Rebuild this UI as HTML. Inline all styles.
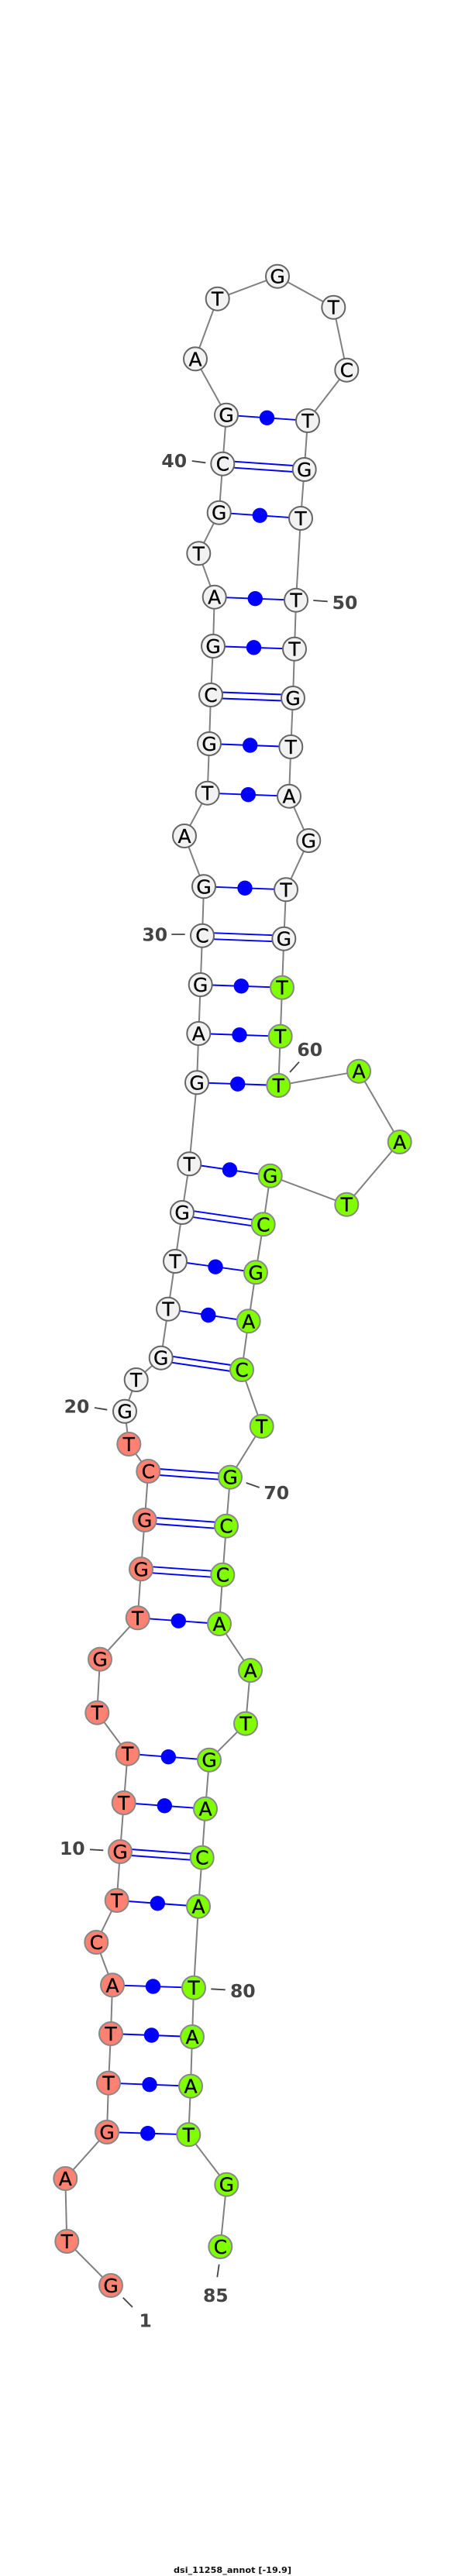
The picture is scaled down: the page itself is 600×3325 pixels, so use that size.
<!DOCTYPE html>
<html><head><meta charset="utf-8"><style>
html,body{margin:0;padding:0;background:#fff}
svg{display:block}
.w{fill:#f2f2f2;stroke:#666}.s{fill:#fe8172;stroke:#888}.g{fill:#7fff00;stroke:#888}
circle.w,circle.s,circle.g{stroke-width:2}
.n text{font:25px "DejaVu Sans",sans-serif;fill:#000;stroke:#000;stroke-width:.3;text-anchor:middle}
.l text{font:bold 23.5px "DejaVu Sans",sans-serif;fill:#444;text-anchor:middle}
</style></head><body>
<svg width="600" height="3325" viewBox="0 0 600 3325" xmlns="http://www.w3.org/2000/svg">
<rect width="600" height="3325" fill="#fff"/>
<polyline fill="none" stroke="#808080" stroke-width="2" points="143,2950 86.3,2893 84.3,2812 138,2752 140,2688.7 143,2625 145,2562.3 124.3,2507 150.7,2453 155,2390 159.7,2327 164.7,2263.7 125.3,2210.7 129,2141.7 177.7,2088.3 182,2025.3 186.7,1962 191.3,1899 166.3,1864 161,1821.7 175.7,1781 207.7,1752.7 217,1689.7 226,1628 235,1565 244.3,1502.3 254,1397.3 256.3,1334 258.7,1271 261,1207.7 263,1144.3 238,1079 267.7,1023.7 270,960 272,897 275,834 276.7,770.7 256.3,714.3 282.7,661.7 287.3,598.7 292,535.7 252,463.3 280.7,385.7 358,356.7 430.3,396.7 447.3,477.7 397,543 392.7,606 388,669 382,774.7 380,837.7 378,901 375.3,964 373,1027.7 398.3,1085 369,1148.3 366.3,1211.7 364,1274.7 361.7,1337.7 359.3,1401 463,1382.7 515.7,1474 447.3,1554.7 348.7,1517.7 339.7,1580.3 330,1642.3 320.7,1705.3 312,1768 337.7,1841 297,1906.7 292,1969.7 287.3,2032.7 283,2096 323,2156 317,2224.7 270,2271.7 265,2334.7 260.7,2397.7 256,2460.7 250,2565.7 248,2629 246,2692.7 243.3,2755.3 292.3,2819.7 284.3,2900"/>
<path fill="none" stroke="#0000ff" stroke-width="1.9" d="M138 2752L243.3 2755.3M140 2688.7L246 2692.7M143 2625L248 2629M145 2562.3L250 2565.7M150.7 2453L256 2460.7M159.7 2327L265 2334.7M164.7 2263.7L270 2271.7M177.7 2088.3L283 2096M217 1689.7L320.7 1705.3M226 1628L330 1642.3M244.3 1502.3L348.7 1517.7M254 1397.3L359.3 1401M256.3 1334L361.7 1337.7M258.7 1271L364 1274.7M263 1144.3L369 1148.3M267.7 1023.7L373 1027.7M270 960L375.3 964M275 834L380 837.7M276.7 770.7L382 774.7M282.7 661.7L388 669M292 535.7L397 543
M155 2386L260.7 2393.7M155 2394L260.7 2401.7M182 2021.3L287.3 2028.7M182 2029.3L287.3 2036.7M186.7 1958L292 1965.7M186.7 1966L292 1973.7M191.3 1895L297 1902.7M191.3 1903L297 1910.7M207.7 1748.7L312 1764M207.7 1756.7L312 1772M235 1561L339.7 1576.3M235 1569L339.7 1584.3M261 1203.7L366.3 1207.7M261 1211.7L366.3 1215.7M272 893L378 897M272 901L378 905M287.3 594.7L392.7 602M287.3 602.7L392.7 610"/>
<g fill="#0000ff">
<circle cx="190.7" cy="2753.7" r="9.7"/><circle cx="193" cy="2690.7" r="9.7"/><circle cx="195.5" cy="2627" r="9.7"/><circle cx="197.5" cy="2564" r="9.7"/><circle cx="203.3" cy="2456.8" r="9.7"/><circle cx="212.3" cy="2330.8" r="9.7"/><circle cx="217.3" cy="2267.7" r="9.7"/><circle cx="230.3" cy="2092.2" r="9.7"/><circle cx="268.8" cy="1697.5" r="9.7"/><circle cx="278" cy="1635.2" r="9.7"/><circle cx="296.5" cy="1510" r="9.7"/><circle cx="306.7" cy="1399.2" r="9.7"/><circle cx="309" cy="1335.8" r="9.7"/><circle cx="311.3" cy="1272.8" r="9.7"/><circle cx="316" cy="1146.3" r="9.7"/><circle cx="320.3" cy="1025.7" r="9.7"/><circle cx="322.7" cy="962" r="9.7"/><circle cx="327.5" cy="835.8" r="9.7"/><circle cx="329.3" cy="772.7" r="9.7"/><circle cx="335.3" cy="665.3" r="9.7"/><circle cx="344.5" cy="539.3" r="9.7"/>
</g>
<g fill="none" stroke="#444" stroke-width="1.8">
<path d="M158.7 2965.7L171 2978M282.7 2922.7L280.3 2939.3M116 2387.3L133.3 2388.3M272.3 2567.3L290.7 2568.3M122 1817L138.3 1819.7M317.7 1914L334.7 1920M374 1384L386 1370.7M221.3 1206L238.7 1206M404.3 775L422.7 776.3M247.7 595L265.3 597.3"/>
</g>
<g>
<circle class="s" cx="143" cy="2950" r="15"/><circle class="s" cx="86.3" cy="2893" r="15"/><circle class="s" cx="84.3" cy="2812" r="15"/><circle class="s" cx="138" cy="2752" r="15"/><circle class="s" cx="140" cy="2688.7" r="15"/><circle class="s" cx="143" cy="2625" r="15"/><circle class="s" cx="145" cy="2562.3" r="15"/><circle class="s" cx="124.3" cy="2507" r="15"/><circle class="s" cx="150.7" cy="2453" r="15"/><circle class="s" cx="155" cy="2390" r="15"/><circle class="s" cx="159.7" cy="2327" r="15"/><circle class="s" cx="164.7" cy="2263.7" r="15"/><circle class="s" cx="125.3" cy="2210.7" r="15"/><circle class="s" cx="129" cy="2141.7" r="15"/><circle class="s" cx="177.7" cy="2088.3" r="15"/><circle class="s" cx="182" cy="2025.3" r="15"/><circle class="s" cx="186.7" cy="1962" r="15"/><circle class="s" cx="191.3" cy="1899" r="15"/><circle class="s" cx="166.3" cy="1864" r="15"/>
<circle class="w" cx="161" cy="1821.7" r="15"/><circle class="w" cx="175.7" cy="1781" r="15"/><circle class="w" cx="207.7" cy="1752.7" r="15"/><circle class="w" cx="217" cy="1689.7" r="15"/><circle class="w" cx="226" cy="1628" r="15"/><circle class="w" cx="235" cy="1565" r="15"/><circle class="w" cx="244.3" cy="1502.3" r="15"/><circle class="w" cx="254" cy="1397.3" r="15"/><circle class="w" cx="256.3" cy="1334" r="15"/><circle class="w" cx="258.7" cy="1271" r="15"/><circle class="w" cx="261" cy="1207.7" r="15"/><circle class="w" cx="263" cy="1144.3" r="15"/><circle class="w" cx="238" cy="1079" r="15"/><circle class="w" cx="267.7" cy="1023.7" r="15"/><circle class="w" cx="270" cy="960" r="15"/><circle class="w" cx="272" cy="897" r="15"/><circle class="w" cx="275" cy="834" r="15"/><circle class="w" cx="276.7" cy="770.7" r="15"/><circle class="w" cx="256.3" cy="714.3" r="15"/><circle class="w" cx="282.7" cy="661.7" r="15"/><circle class="w" cx="287.3" cy="598.7" r="15"/><circle class="w" cx="292" cy="535.7" r="15"/><circle class="w" cx="252" cy="463.3" r="15"/><circle class="w" cx="280.7" cy="385.7" r="15"/><circle class="w" cx="358" cy="356.7" r="15"/><circle class="w" cx="430.3" cy="396.7" r="15"/><circle class="w" cx="447.3" cy="477.7" r="15"/><circle class="w" cx="397" cy="543" r="15"/><circle class="w" cx="392.7" cy="606" r="15"/><circle class="w" cx="388" cy="669" r="15"/><circle class="w" cx="382" cy="774.7" r="15"/><circle class="w" cx="380" cy="837.7" r="15"/><circle class="w" cx="378" cy="901" r="15"/><circle class="w" cx="375.3" cy="964" r="15"/><circle class="w" cx="373" cy="1027.7" r="15"/><circle class="w" cx="398.3" cy="1085" r="15"/><circle class="w" cx="369" cy="1148.3" r="15"/><circle class="w" cx="366.3" cy="1211.7" r="15"/>
<circle class="g" cx="364" cy="1274.7" r="15"/><circle class="g" cx="361.7" cy="1337.7" r="15"/><circle class="g" cx="359.3" cy="1401" r="15"/><circle class="g" cx="463" cy="1382.7" r="15"/><circle class="g" cx="515.7" cy="1474" r="15"/><circle class="g" cx="447.3" cy="1554.7" r="15"/><circle class="g" cx="348.7" cy="1517.7" r="15"/><circle class="g" cx="339.7" cy="1580.3" r="15"/><circle class="g" cx="330" cy="1642.3" r="15"/><circle class="g" cx="320.7" cy="1705.3" r="15"/><circle class="g" cx="312" cy="1768" r="15"/><circle class="g" cx="337.7" cy="1841" r="15"/><circle class="g" cx="297" cy="1906.7" r="15"/><circle class="g" cx="292" cy="1969.7" r="15"/><circle class="g" cx="287.3" cy="2032.7" r="15"/><circle class="g" cx="283" cy="2096" r="15"/><circle class="g" cx="323" cy="2156" r="15"/><circle class="g" cx="317" cy="2224.7" r="15"/><circle class="g" cx="270" cy="2271.7" r="15"/><circle class="g" cx="265" cy="2334.7" r="15"/><circle class="g" cx="260.7" cy="2397.7" r="15"/><circle class="g" cx="256" cy="2460.7" r="15"/><circle class="g" cx="250" cy="2565.7" r="15"/><circle class="g" cx="248" cy="2629" r="15"/><circle class="g" cx="246" cy="2692.7" r="15"/><circle class="g" cx="243.3" cy="2755.3" r="15"/><circle class="g" cx="292.3" cy="2819.7" r="15"/><circle class="g" cx="284.3" cy="2900" r="15"/>
</g>
<g class="n" transform="translate(0,9)">
<text x="143" y="2950">G</text><text x="86.3" y="2893">T</text><text x="84.3" y="2812">A</text><text x="138" y="2752">G</text><text x="140" y="2688.7">T</text><text x="143" y="2625">T</text><text x="145" y="2562.3">A</text><text x="124.3" y="2507">C</text><text x="150.7" y="2453">T</text><text x="155" y="2390">G</text><text x="159.7" y="2327">T</text><text x="164.7" y="2263.7">T</text><text x="125.3" y="2210.7">T</text><text x="129" y="2141.7">G</text><text x="177.7" y="2088.3">T</text><text x="182" y="2025.3">G</text><text x="186.7" y="1962">G</text><text x="191.3" y="1899">C</text><text x="166.3" y="1864">T</text><text x="161" y="1821.7">G</text><text x="175.7" y="1781">T</text><text x="207.7" y="1752.7">G</text><text x="217" y="1689.7">T</text><text x="226" y="1628">T</text><text x="235" y="1565">G</text><text x="244.3" y="1502.3">T</text><text x="254" y="1397.3">G</text><text x="256.3" y="1334">A</text><text x="258.7" y="1271">G</text><text x="261" y="1207.7">C</text><text x="263" y="1144.3">G</text><text x="238" y="1079">A</text><text x="267.7" y="1023.7">T</text><text x="270" y="960">G</text><text x="272" y="897">C</text><text x="275" y="834">G</text><text x="276.7" y="770.7">A</text><text x="256.3" y="714.3">T</text><text x="282.7" y="661.7">G</text><text x="287.3" y="598.7">C</text><text x="292" y="535.7">G</text><text x="252" y="463.3">A</text><text x="280.7" y="385.7">T</text><text x="358" y="356.7">G</text><text x="430.3" y="396.7">T</text><text x="447.3" y="477.7">C</text><text x="397" y="543">T</text><text x="392.7" y="606">G</text><text x="388" y="669">T</text><text x="382" y="774.7">T</text><text x="380" y="837.7">T</text><text x="378" y="901">G</text><text x="375.3" y="964">T</text><text x="373" y="1027.7">A</text><text x="398.3" y="1085">G</text><text x="369" y="1148.3">T</text><text x="366.3" y="1211.7">G</text><text x="364" y="1274.7">T</text><text x="361.7" y="1337.7">T</text><text x="359.3" y="1401">T</text><text x="463" y="1382.7">A</text><text x="515.7" y="1474">A</text><text x="447.3" y="1554.7">T</text><text x="348.7" y="1517.7">G</text><text x="339.7" y="1580.3">C</text><text x="330" y="1642.3">G</text><text x="320.7" y="1705.3">A</text><text x="312" y="1768">C</text><text x="337.7" y="1841">T</text><text x="297" y="1906.7">G</text><text x="292" y="1969.7">C</text><text x="287.3" y="2032.7">C</text><text x="283" y="2096">A</text><text x="323" y="2156">A</text><text x="317" y="2224.7">T</text><text x="270" y="2271.7">G</text><text x="265" y="2334.7">A</text><text x="260.7" y="2397.7">C</text><text x="256" y="2460.7">A</text><text x="250" y="2565.7">T</text><text x="248" y="2629">A</text><text x="246" y="2692.7">A</text><text x="243.3" y="2755.3">T</text><text x="292.3" y="2819.7">G</text><text x="284.3" y="2900">C</text>
</g>
<g class="l" transform="translate(0,8.5)">
<text x="187.7" y="2995">1</text><text x="278.3" y="2962.7">85</text><text x="93.3" y="2385.7">10</text><text x="313.3" y="2569.3">80</text><text x="99" y="1815">20</text><text x="356.7" y="1926.7">70</text><text x="399.7" y="1354.3">60</text><text x="199.7" y="1206">30</text><text x="445" y="777.3">50</text><text x="224.7" y="594.7">40</text>
</g>
<text x="224" y="3321" font-family="'DejaVu Sans',sans-serif" font-weight="bold" font-size="11" fill="#111" textLength="152" lengthAdjust="spacingAndGlyphs">dsi_11258_annot [-19.9]</text>
</svg>
</body></html>
